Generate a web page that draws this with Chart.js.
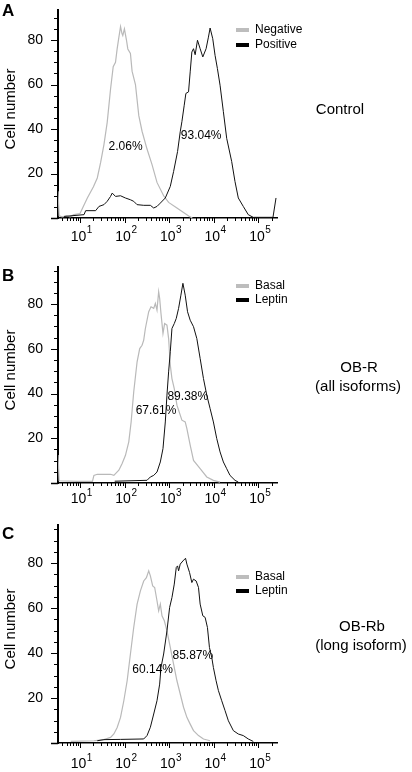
<!DOCTYPE html>
<html>
<head>
<meta charset="UTF-8">
<script src="https://cdn.jsdelivr.net/npm/chart.js"></script>
<style>
  body { margin: 0; background: #fff; }
  #page { position: relative; width: 412px; height: 772px; overflow: hidden; font-family: "Liberation Sans", Arial, sans-serif; }
  .panel { position: absolute; left: 0; }
  .side { position: absolute; font-size: 15px; color: #000; white-space: nowrap; transform: translate(-50%, -50%); line-height: 18px; }
</style>
</head>
<body>
<div id="page">
  <canvas id="chartA" class="panel" style="top:0" width="412" height="256"></canvas>
  <canvas id="chartB" class="panel" style="top:256px" width="412" height="258"></canvas>
  <canvas id="chartC" class="panel" style="top:514px" width="412" height="258"></canvas>

  <div class="side" style="left:340px;top:109px">Control</div>
  <div class="side" style="left:359px;top:367px">OB-R</div>
  <div class="side" style="left:358px;top:386px">(all isoforms)</div>
  <div class="side" style="left:362px;top:626px">OB-Rb</div>
  <div class="side" style="left:361px;top:645px">(long isoform)</div>
</div>

<script>
// ---- data (x = fluorescence, y = cell number) ----

// A: control
var aNegX = [3.22, 3.4, 4, 5, 6, 7.3, 10, 14.6, 20, 24.4, 29, 34.4, 40.7, 48.4, 55.5, 62.5, 68, 74, 81, 87, 91, 99, 110, 118, 135, 147, 175, 208, 246, 318, 412, 532, 750, 970, 1490, 2490, 2950, 3300];
var aNegY = [12, 1, 0.5, 1, 0.5, 1.5, 2, 9, 14, 18, 25, 33, 43, 58, 68, 70, 76, 81, 86, 83, 82, 85, 80, 76, 74, 66, 60, 46, 39, 31, 24, 16, 10, 7, 4.5, 1.5, 0.5, 0];
var aPosX = [4.4, 12.3, 13.4, 22.4, 26.6, 34.4, 40.7, 48.4, 52.7, 62.5, 81, 104, 135, 160, 190, 268, 378, 449, 532, 632, 817, 1057, 1254, 1540, 1767, 1925, 2170, 2365, 2711, 2953, 3217, 3506, 3819, 4305, 4937, 5662, 6716, 7570, 8253, 9460, 10670, 12030, 13800, 16370, 19440, 25140, 29850, 35410, 45810, 59200, 76600, 212000, 248000];
var aPosY = [0.7, 1.5, 3.3, 3.3, 5.2, 6, 7.5, 9.7, 11.2, 9.7, 10, 9, 8.2, 7.5, 6, 5.7, 5.7, 4.5, 5.2, 6.7, 9, 14.2, 20.9, 29.9, 38.8, 43.3, 50.7, 56, 56.7, 65.7, 74.6, 76.1, 73.4, 79.9, 76.1, 72.4, 76.1, 81.3, 85.4, 80.6, 73.1, 67.2, 59.7, 47.8, 35.8, 25.4, 16.4, 9, 5.2, 1.5, 0.3, 0.3, 9];

// B: OB-R (all isoforms)
var bBasX = [3.22, 3.4, 8.7, 19, 20.5, 24.4, 48.4, 57.4, 62.5, 74.3, 88, 104.5, 124, 140, 160, 190.5, 218, 246, 268, 292, 347, 391, 449, 489, 532, 580, 611, 654, 725, 789, 890, 970, 1057, 1151, 1298, 1490, 1925, 2284, 2490, 2953, 3506, 4937, 6950, 9790, 13800];
var bBasY = [12.5, 1, 0.7, 0.7, 3.4, 3.9, 3.9, 3.4, 4.2, 5.7, 8.7, 12.4, 18.4, 27.3, 40.7, 54.2, 60.1, 61.6, 63.9, 69.1, 76.6, 78.8, 78.1, 80.3, 77.3, 85.5, 82.5, 75.8, 66.9, 71.3, 70.6, 64.6, 52.7, 46.7, 42.2, 34.8, 28.1, 27.3, 24.3, 16.9, 10.1, 6.4, 2.7, 1.2, 0.4];
var bLepX = [60, 318, 378, 449, 532, 632, 725, 817, 890, 970, 1057, 1151, 1298, 1439, 1622, 1828, 2028, 2284, 2576, 2953, 3506, 4159, 4937, 5861, 6950, 8253, 9790, 11620, 13800, 16370, 19440, 23070, 29850, 35410];
var bLepY = [0.8, 1.2, 2.7, 3.4, 4.9, 9.4, 15.4, 27.3, 39.3, 49.7, 58.7, 69.1, 71.3, 73.6, 78.1, 84, 89.3, 84, 76.6, 72.8, 69.9, 64.6, 55.7, 46.7, 39.3, 33.3, 27.3, 19.9, 13.9, 9.4, 6.4, 3.4, 1.2, 0.4];

// C: OB-Rb (long isoform)
var cBasX = [6.2, 20.5, 34.4, 48.4, 57.4, 68.1, 81, 96, 114, 135, 160, 190.5, 226, 268, 308, 347, 378, 426, 472, 532, 580, 632, 689, 777, 890, 1057, 1254, 1490, 1767, 2096, 2490, 2953, 3506, 4533, 5861, 8253];
var cBasY = [0.7, 1, 1.5, 2.5, 4, 6.9, 11.4, 18.8, 27.7, 39.6, 51.4, 61.8, 67.7, 72.1, 73.6, 76.6, 74.4, 69.9, 69.2, 63.3, 58.8, 61.8, 56.6, 54.4, 49.9, 42.5, 35.1, 27.7, 21.8, 15.9, 11.4, 8.4, 5.5, 3.3, 1.8, 1];
var cLepX = [24.4, 34.4, 81, 268, 318, 378, 449, 532, 611, 654, 750, 890, 1021, 1151, 1298, 1439, 1541, 1622, 1767, 2028, 2323, 2490, 2853, 3217, 3506, 4018, 4533, 4937, 5662, 6383, 7195, 7980, 8995, 9790, 11240, 12680, 15040, 17860, 21190, 27420, 35410, 45810, 59200, 76600];
var cLepY = [1, 1.5, 1.6, 1.8, 3.3, 7, 12.9, 18.8, 26.2, 33.6, 39.6, 49.9, 60.3, 64.7, 70.7, 78.1, 78.8, 76.6, 79.6, 81, 82.2, 79.6, 75.9, 71.4, 72.9, 72.1, 69.2, 61.8, 56.6, 55.9, 51.4, 42.5, 38.1, 33.6, 27.7, 23.3, 18.8, 14.4, 9.9, 5.5, 4, 3.3, 1.8, 0.7];

// legends and percentages
var aNames = ["Negative", "Positive"];
var bNames = ["Basal", "Leptin"];
var cNames = ["Basal", "Leptin"];
var aPct = ["2.06%", "93.04%"];
var bPct = ["67.61%", "89.38%"];
var cPct = ["60.14%", "85.87%"];

// axis ticks
var xDecades = [1, 2, 3, 4, 5];
var yLabelTicks = [20, 40, 60, 80];

var X_MIN = 3.21, X_MAX = 261000;
var FONT = '"Liberation Sans", Arial, sans-serif';

// layout of each panel inside its canvas
var panels = {
  chartA: { letter: "A", yMax: 93.5, padTop: 10, padBottom: 18, letterBase: 15.5, legendY: [30, 45], xLabelBase: 240.5,
            pct: [[105, 32], [5200, 37.2]], names: aNames, pctText: aPct },
  chartB: { letter: "B", yMax: 96.6, padTop: 11, padBottom: 11, letterBase: 24.5, legendY: [30, 44], xLabelBase: 247,
            pct: [[505, 32.2], [2610, 38.5]], names: bNames, pctText: bPct },
  chartC: { letter: "C", yMax: 97, padTop: 11, padBottom: 9, letterBase: 24.5, legendY: [63, 77], xLabelBase: 254,
            pct: [[426, 32.8], [3380, 38.7]], names: cNames, pctText: cPct }
};

function pts(xs, ys) {
  var out = [];
  for (var i = 0; i < xs.length; i++) out.push({ x: xs[i], y: ys[i] });
  return out;
}

// axis ticks, labels, legend and notes drawn on top
var decor = {
  id: 'decor',
  afterDraw: function (chart) {
    var p = panels[chart.canvas.id];
    var ctx = chart.ctx, xs = chart.scales.x, ys = chart.scales.y, area = chart.chartArea;
    ctx.save();
    ctx.strokeStyle = '#000';
    ctx.fillStyle = '#000';

    // y ticks every 5, long ones every 20
    for (var v = 0; v <= p.yMax; v += 5) {
      var py = Math.round(ys.getPixelForValue(v)) + 0.5;
      var len = (v % 20 === 0) ? 7 : 4;
      ctx.lineWidth = v === 0 ? 1.5 : 1;
      ctx.beginPath(); ctx.moveTo(area.left - len, py); ctx.lineTo(area.left, py); ctx.stroke();
    }
    ctx.font = '14px ' + FONT;
    ctx.textAlign = 'right';
    ctx.textBaseline = 'middle';
    yLabelTicks.forEach(function (t) {
      ctx.fillText(String(t), 43, ys.getPixelForValue(t));
    });

    // x log ticks
    ctx.lineWidth = 1;
    for (var d = 0; d <= 5; d++) {
      for (var f = 1; f <= 9; f++) {
        var val = f * Math.pow(10, d);
        if (val < X_MIN || val > X_MAX) continue;
        var px = Math.round(xs.getPixelForValue(val)) + 0.5;
        var l = f === 1 ? 5 : 3;
        ctx.beginPath(); ctx.moveTo(px, area.bottom); ctx.lineTo(px, area.bottom + l); ctx.stroke();
      }
    }
    ctx.textBaseline = 'alphabetic';
    xDecades.forEach(function (e) {
      var tx = xs.getPixelForValue(Math.pow(10, e)) - 1.5;
      ctx.font = '14px ' + FONT;
      ctx.textAlign = 'center';
      ctx.fillText('10', tx, p.xLabelBase);
      var w = ctx.measureText('10').width;
      ctx.font = '10px ' + FONT;
      ctx.textAlign = 'left';
      ctx.fillText(String(e), tx + w / 2 + 0.5, p.xLabelBase - 7.5);
    });

    // y title
    ctx.save();
    ctx.translate(15, (area.top + area.bottom) / 2 - 5);
    ctx.rotate(-Math.PI / 2);
    ctx.font = '15px ' + FONT;
    ctx.textAlign = 'center';
    ctx.textBaseline = 'alphabetic';
    ctx.fillText('Cell number', 0, 0);
    ctx.restore();

    // panel letter
    ctx.font = 'bold 17px ' + FONT;
    ctx.textAlign = 'left';
    ctx.textBaseline = 'alphabetic';
    ctx.fillText(p.letter, 2, p.letterBase);

    // legend
    var colors = ['#bdbdbd', '#000'];
    ctx.font = '12px ' + FONT;
    ctx.textBaseline = 'middle';
    for (var k = 0; k < 2; k++) {
      ctx.fillStyle = colors[k];
      ctx.fillRect(236, p.legendY[k] - 2, 13, 4);
      ctx.fillStyle = '#000';
      ctx.fillText(p.names[k], 255, p.legendY[k]);
    }

    // percentages
    ctx.textAlign = 'center';
    ctx.font = '12px ' + FONT;
    for (var n = 0; n < 2; n++) {
      ctx.fillText(p.pctText[n], xs.getPixelForValue(p.pct[n][0]), ys.getPixelForValue(p.pct[n][1]));
    }
    ctx.restore();
  }
};

function makeChart(id, greyX, greyY, blackX, blackY) {
  var p = panels[id];
  return new Chart(document.getElementById(id), {
    type: 'scatter',
    data: {
      datasets: [{
        label: p.names[0],
        data: pts(greyX, greyY),
        showLine: true,
        borderColor: '#b9b9b9',
        borderWidth: 1.2,
        pointRadius: 0,
        order: 2
      }, {
        label: p.names[1],
        data: pts(blackX, blackY),
        showLine: true,
        borderColor: '#111',
        borderWidth: 1,
        pointRadius: 0,
        order: 1
      }]
    },
    options: {
      responsive: false,
      animation: false,
      layout: { padding: { top: p.padTop, right: 135, bottom: p.padBottom, left: 0 } },
      plugins: { legend: { display: false }, tooltip: { enabled: false } },
      scales: {
        x: {
          type: 'logarithmic', min: X_MIN, max: X_MAX,
          grid: { display: false },
          border: { color: '#000', width: 1.5 },
          ticks: { display: false },
          afterFit: function (s) { s.height = 20; }
        },
        y: {
          min: 0, max: p.yMax,
          grid: { display: false },
          border: { color: '#000', width: 2 },
          ticks: { display: false },
          afterFit: function (s) { s.width = 58; }
        }
      }
    },
    plugins: [decor]
  });
}

makeChart('chartA', aNegX, aNegY, aPosX, aPosY);
makeChart('chartB', bBasX, bBasY, bLepX, bLepY);
makeChart('chartC', cBasX, cBasY, cLepX, cLepY);
</script>
</body>
</html>
